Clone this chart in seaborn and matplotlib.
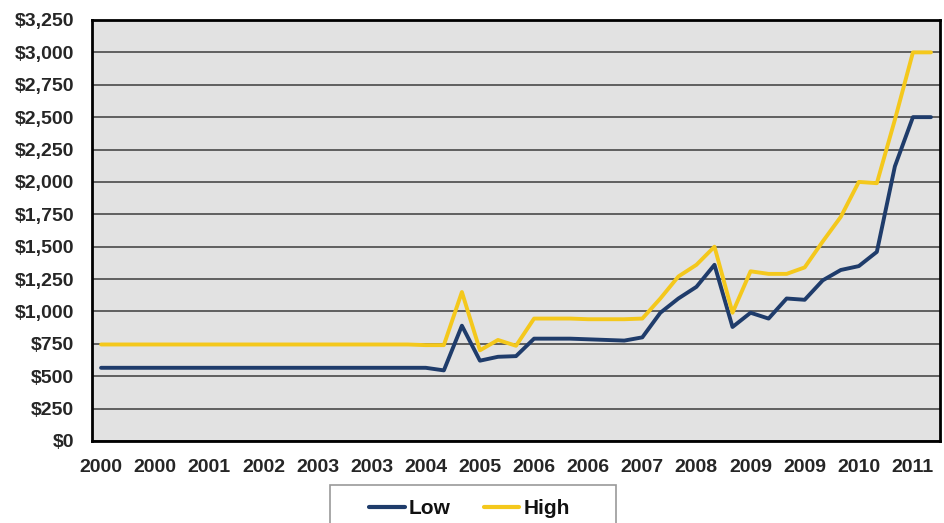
import numpy as np
import pandas as pd
import matplotlib
matplotlib.use("Agg")
import matplotlib.pyplot as plt
import seaborn as sns
from matplotlib.patches import Rectangle

# category labels shown under every third point
tick_labels = ["2000", "2000", "2001", "2002", "2003", "2003", "2004", "2005",
               "2006", "2006", "2007", "2008", "2009", "2009", "2010", "2011"]

# values, 47 points
low = [565, 565, 565, 565, 565, 565, 565, 565, 565, 565,
       565, 565, 565, 565, 565, 565, 565, 565, 565, 545,
       890, 620, 650, 655, 790, 790, 790, 785, 780, 775,
       800, 990, 1100, 1190, 1360, 880, 990, 945, 1100, 1090,
       1240, 1320, 1350, 1460, 2120, 2500, 2500]
high = [745, 745, 745, 745, 745, 745, 745, 745, 745, 745,
        745, 745, 745, 745, 745, 745, 745, 745, 740, 740,
        1150, 700, 780, 735, 945, 945, 945, 940, 940, 940,
        945, 1100, 1270, 1360, 1500, 990, 1310, 1290, 1290, 1340,
        1540, 1730, 2000, 1990, 2480, 3000, 3000]

colors = {"Low": "#1f3c6b", "High": "#f4c81c"}

n = len(low)
df = pd.DataFrame({
    "idx": list(range(n)) * 2,
    "value": low + high,
    "Series": ["Low"] * n + ["High"] * n,
})

sns.set_style("white")
plt.rcParams["font.family"] = ["Liberation Sans", "DejaVu Sans"]

W, H = 945, 523
fig = plt.figure(figsize=(W / 100, H / 100), dpi=100)
ax = fig.add_axes([0.0974, 0.1568, 0.8973, 0.805])
ax.set_facecolor("#e2e2e2")

sns.lineplot(data=df, x="idx", y="value", hue="Series", palette=colors,
             linewidth=2.8, ax=ax, legend=False, sort=False)
for line in ax.get_lines():
    line.set_solid_joinstyle("round")
    line.set_solid_capstyle("round")

ax.set_ylim(0, 3250)
ax.set_xlim(-0.5, n - 0.5)
yt = np.arange(0, 3251, 250)
ax.set_yticks(yt)
ax.set_yticklabels([f"${v:,.0f}" for v in yt], fontsize=14, fontweight="bold")
ax.yaxis.grid(True, color="#555555", linewidth=1.3)
ax.set_axisbelow(True)

ax.set_xticks(np.arange(0, 3 * len(tick_labels), 3))
ax.set_xticklabels(tick_labels, fontsize=14, fontweight="bold")
ax.set_xticks(np.arange(-0.5, n, 1), minor=True)
ax.tick_params(axis="x", which="major", length=0, pad=13)
ax.tick_params(axis="x", which="minor", length=5, width=1.8, direction="out", color="black")
ax.tick_params(axis="y", length=4, width=1.5, direction="out", color="black", pad=9)
ax.set_xlabel("")
ax.set_ylabel("")

for side in ["left", "bottom", "top", "right"]:
    ax.spines[side].set_visible(True)
    ax.spines[side].set_color("black")
    ax.spines[side].set_linewidth(2)

# legend: entries without frame, box drawn separately to match the wide frame
handles = [plt.Line2D([], [], color=colors[k], linewidth=3) for k in ["Low", "High"]]
leg = fig.legend(handles, ["Low", "High"], loc="upper center",
                 bbox_to_anchor=(0.497, 0.058), borderaxespad=0, ncol=2,
                 frameon=False, handlelength=1.7, handletextpad=0.2,
                 columnspacing=1.6, borderpad=0.3,
                 prop={"weight": "bold", "size": 15})
for t in leg.get_texts():
    t.set_color("#111111")
fig.patches.append(Rectangle((330 / W, -0.02), 286 / W, 0.02 + (H - 485) / H,
                             transform=fig.transFigure, fill=False,
                             edgecolor="#999999", linewidth=1.2))

fig.savefig("out.png", dpi=100)
